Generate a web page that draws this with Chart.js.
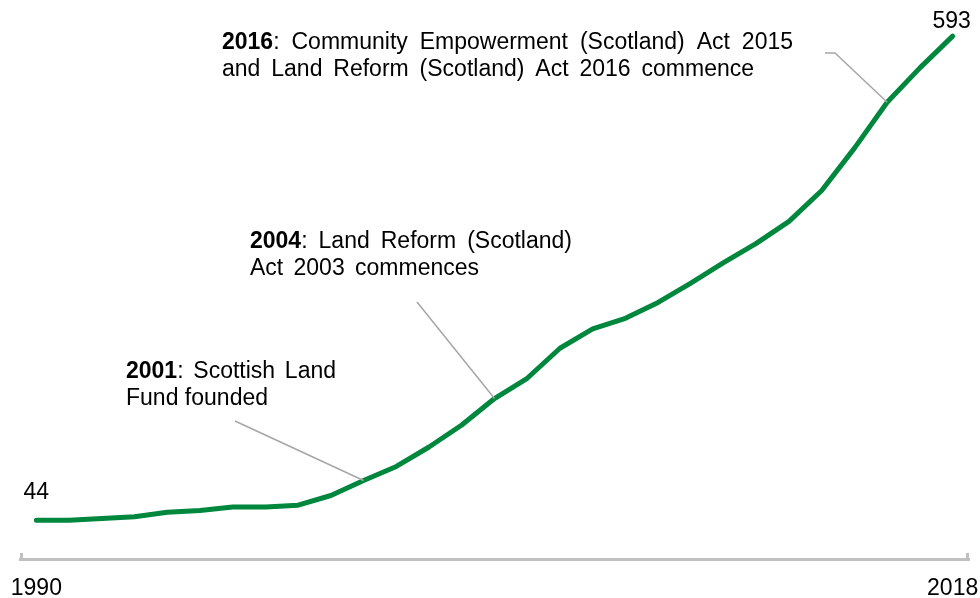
<!DOCTYPE html>
<html>
<head>
<meta charset="utf-8">
<script src="https://cdn.jsdelivr.net/npm/chart.js@4/dist/chart.umd.min.js"></script>
<style>
    html, body { margin: 0; padding: 0; background: #fff; }
    #wrap { width: 980px; height: 598px; position: relative; }
</style>
</head>
<body>
<div id="wrap"><canvas id="chart"></canvas></div>
<script>
// dati
const years = [];
for (let y = 1990; y <= 2018; y++) years.push(String(y));
const groups = [44, 44, 46, 48, 53, 55, 59, 59, 61, 72, 89, 105, 127, 152, 182,
    205, 239, 261, 273, 291, 313, 336, 358, 383, 418, 466, 518, 557, 593];
const shownTicks = ["1990", "2018"];

const FONT = "'Liberation Sans', Arial, sans-serif";
const SIZE = 23;

// note sul grafico: righe di testo, punto indicato
const notes = [
    {
        target: 10, x: 126, base: [378, 405], from: [[235, 421]],
        lines: [["2001", ": Scottish Land", 210], ["", "Fund founded", 142]],
    },
    {
        target: 14, x: 250, base: [248, 275], from: [[417, 302]],
        lines: [["2004", ": Land Reform (Scotland)", 322], ["", "Act 2003 commences", 229]],
    },
    {
        target: 26, x: 222, base: [49, 76], from: [[825, 53], [835, 53]],
        lines: [["2016", ": Community Empowerment (Scotland) Act 2015", 571],
                ["", "and Land Reform (Scotland) Act 2016 commence", 532]],
    },
];

// disegna una riga con grassetto iniziale, spazi allargati per arrivare a "width"
function drawLine(ctx, x, y, bold, rest, width) {
    const parts = [];
    if (bold) parts.push({ t: bold, b: true });
    rest.split(" ").forEach((w, i) => parts.push({ t: w, b: false, sp: i > 0 }));
    const boldF = "bold " + SIZE + "px " + FONT, normF = SIZE + "px " + FONT;
    let natural = 0, spaces = 0;
    parts.forEach(p => {
        ctx.font = p.b ? boldF : normF;
        natural += ctx.measureText(p.t).width;
        if (p.sp) { ctx.font = normF; natural += ctx.measureText(" ").width; spaces++; }
    });
    const extra = spaces ? Math.max(0, (width - natural) / spaces) : 0;
    let cx = x;
    parts.forEach(p => {
        if (p.sp) { ctx.font = normF; cx += ctx.measureText(" ").width + extra; }
        ctx.font = p.b ? boldF : normF;
        ctx.fillText(p.t, cx, y);
        cx += ctx.measureText(p.t).width;
    });
}

const notesPlugin = {
    id: "notes",
    afterDraw(chart) {
        const ctx = chart.ctx;
        const xs = chart.scales.x, ys = chart.scales.y;
        const area = chart.chartArea;
        ctx.save();
        // tacche agli estremi dell'asse
        ctx.strokeStyle = "#c0c0c0";
        ctx.lineWidth = 3;
        ctx.beginPath();
        ctx.moveTo(area.left + 1.5, area.bottom - 6);
        ctx.lineTo(area.left + 1.5, area.bottom);
        ctx.moveTo(area.right - 1.5, area.bottom - 6);
        ctx.lineTo(area.right - 1.5, area.bottom);
        ctx.stroke();

        // linee di richiamo
        ctx.strokeStyle = "#a6a6a6";
        ctx.lineWidth = 1.5;
        notes.forEach(n => {
            ctx.beginPath();
            n.from.forEach((p, i) => i ? ctx.lineTo(p[0], p[1]) : ctx.moveTo(p[0], p[1]));
            ctx.lineTo(xs.getPixelForValue(n.target), ys.getPixelForValue(groups[n.target]));
            ctx.stroke();
        });

        // testi
        ctx.fillStyle = "#000";
        ctx.textBaseline = "alphabetic";
        ctx.textAlign = "left";
        notes.forEach(n => {
            n.lines.forEach((l, i) => drawLine(ctx, n.x, n.base[i], l[0], l[1], l[2]));
        });

        // valori primo e ultimo
        ctx.font = SIZE + "px " + FONT;
        ctx.textAlign = "center";
        ctx.textBaseline = "middle";
        const last = groups.length - 1;
        ctx.fillText(String(groups[0]), xs.getPixelForValue(0), ys.getPixelForValue(groups[0]) - 28);
        ctx.fillText(String(groups[last]), xs.getPixelForValue(last) - 1, ys.getPixelForValue(groups[last]) - 14);
        ctx.restore();
    },
};

function main() {
    new Chart(document.getElementById("chart"), {
        type: "line",
        data: {
            labels: years,
            datasets: [{
                data: groups,
                borderColor: "#00873e",
                borderWidth: 5,
                borderCapStyle: "round",
                borderJoinStyle: "round",
                pointRadius: 0,
                tension: 0,
            }],
        },
        options: {
            responsive: true,
            maintainAspectRatio: false,
            animation: false,
            layout: { padding: { left: 20, right: 11, top: 0, bottom: 0 } },
            plugins: { legend: { display: false }, tooltip: { enabled: false } },
            scales: {
                x: {
                    offset: true,
                    grid: {
                        display: true,
                        drawOnChartArea: false,
                        drawTicks: true,
                        tickLength: 16,
                        tickColor: "rgba(0,0,0,0)",
                    },
                    border: { display: true, color: "#c0c0c0", width: 3 },
                    ticks: {
                        autoSkip: false,
                        maxRotation: 0,
                        padding: 0,
                        color: "#000",
                        font: { family: FONT, size: SIZE },
                        callback: function (v) {
                            const l = this.getLabelForValue(v);
                            return shownTicks.includes(l) ? l : "";
                        },
                    },
                    afterFit: s => { s.height = 39; },
                },
                y: { display: false, min: 0, max: 634 },
            },
        },
        plugins: [notesPlugin],
    });
}

document.addEventListener("DOMContentLoaded", main);
</script>
</body>
</html>
